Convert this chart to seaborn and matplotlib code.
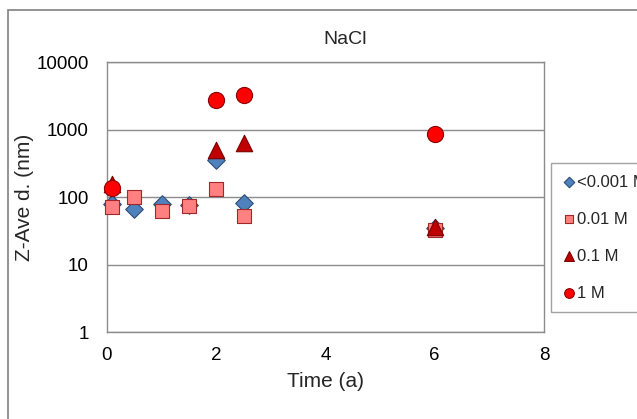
import matplotlib
matplotlib.use("Agg")
import matplotlib.pyplot as plt
import matplotlib.patches as mpatches
import seaborn as sns

# Time (a) for each series
t_0001 = [0.1, 0.5, 1.0, 1.5, 2.0, 2.5, 6.0]
d_0001 = [80, 66, 80, 76, 350, 82, 35]

t_001 = [0.1, 0.5, 1.0, 1.5, 2.0, 2.5, 6.0]
d_001 = [72, 100, 62, 74, 130, 52, 33]

t_01 = [0.1, 2.0, 2.5, 6.0]
d_01 = [158, 500, 630, 36]

t_1 = [0.1, 2.0, 2.5, 6.0]
d_1 = [138, 2700, 3300, 860]

labels = ["<0.001 M", "0.01 M", "0.1 M", "1 M"]

sns.set_style("white")
plt.rcParams["font.family"] = ["Liberation Sans", "DejaVu Sans"]

fig = plt.figure(figsize=(6.37, 4.19), dpi=100)
ax = fig.add_axes([107 / 637, 1 - 332 / 419, (544 - 107) / 637, (332 - 62) / 419])

series = [
    (t_0001, d_0001, "D", "#4F81BD", "#2C4D75", 80),
    (t_001, d_001, "s", "#FF8080", "#A0282A", 110),
    (t_01, d_01, "^", "#C00000", "#7A0000", 140),
    (t_1, d_1, "o", "#FF0000", "#8B0000", 135),
]
for (x, y, m, c, ec, s), lab in zip(series, labels):
    sns.scatterplot(x=x, y=y, marker=m, color=c, edgecolor=ec, linewidth=0.8,
                    s=s, label=lab, ax=ax, zorder=3, clip_on=False)

ax.set_yscale("log")
ax.set_ylim(1, 10000)
ax.set_xlim(0, 8)
ax.set_xticks([0, 2, 4, 6, 8])
ax.set_yticks([1, 10, 100, 1000, 10000])
ax.set_yticklabels(["1", "10", "100", "1000", "10000"])
ax.minorticks_off()
ax.yaxis.grid(True, color="#8c8c8c", linewidth=1.0)
ax.set_axisbelow(True)
for sp in ax.spines.values():
    sp.set_color("#8c8c8c")
    sp.set_linewidth(1.0)
ax.tick_params(axis="both", direction="out", width=1, color="#8c8c8c",
               labelsize=13.5, labelcolor="black")
ax.tick_params(axis="x", length=4, pad=7)
ax.tick_params(axis="y", length=5, pad=8)

ax.set_xlabel("Time (a)", fontsize=15)
ax.set_ylabel("Z-Ave d. (nm)", fontsize=15)
ax.xaxis.label.set_va("center")
ax.yaxis.label.set_va("center")
ax.xaxis.set_label_coords(0.5, (332 - 381) / 270)
ax.yaxis.set_label_coords((24 - 107) / 437, 0.5)
fig.text(345 / 637, 1 - 40 / 419, "NaCl", ha="center", va="center", fontsize=14)

ax.get_legend().remove()
handles, labs = ax.get_legend_handles_labels()
leg = fig.legend(handles, labs, loc="upper left", bbox_to_anchor=(551 / 637, 1 - 163 / 419),
                 frameon=True, fancybox=False, fontsize=12, markerscale=0.6,
                 labelspacing=1.32, handletextpad=0.05, handlelength=0.8,
                 borderpad=0.7, borderaxespad=0)
leg.get_frame().set_edgecolor("#8c8c8c")
leg.get_frame().set_linewidth(1.0)

# outer chart border
fig.patches.append(mpatches.Rectangle((8 / 637, -0.1), 1.2, 1 - 10 / 419 + 0.1,
                                      transform=fig.transFigure, fill=False,
                                      edgecolor="#808080", linewidth=1.2))

fig.savefig("out.png", dpi=100)
